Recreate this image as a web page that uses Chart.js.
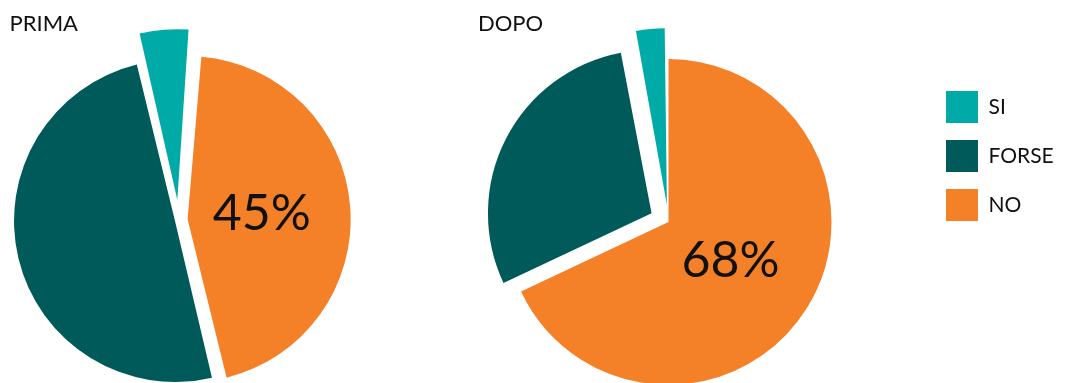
<!DOCTYPE html>
<html>
<head>
<meta charset="utf-8">
<title>PRIMA / DOPO</title>
<script src="https://cdn.jsdelivr.net/npm/chart.js@4.4.1/dist/chart.umd.min.js"></script>
<style>
  html, body { margin: 0; padding: 0; background: #ffffff; width: 1065px; height: 383px; overflow: hidden; }
  .panel { position: absolute; }
  #primaBox { left: 0; top: 0; width: 360px; height: 440px; }
  #dopoBox { left: 470px; top: 0; width: 389px; height: 440px; }
  #legendBox { left: 920px; top: 74px; width: 300px; height: 240px; }
</style>
</head>
<body>
<div class="panel" id="primaBox"><canvas id="primaChart"></canvas></div>
<div class="panel" id="dopoBox"><canvas id="dopoChart"></canvas></div>
<div class="panel" id="legendBox"><canvas id="legendChart"></canvas></div>
<script>
// Answer categories, in clockwise drawing order from the start angle
const categories = ['NO', 'FORSE', 'SI'];
// Share of answers (%) before and after
const primaValues = [45, 50, 5];
const dopoValues = [68, 29, 3];
// Slice colours, one per category
const colours = ['#F48128', '#015A5A', '#00AAA6'];
// Only this category carries a percentage label
const labelledCategory = 'NO';

const FONT = 'Lato, "Open Sans", sans-serif';
const TEXT = '#111111';
Chart.defaults.font.family = FONT;
Chart.defaults.color = TEXT;
Chart.defaults.animation = false;

// Writes "<value>%" inside the chosen slice, part way out along its middle angle
const percentLabel = {
  id: 'percentLabel',
  afterDatasetsDraw(chart, args, opts) {
    const i = chart.data.labels.indexOf(opts.category);
    const arc = chart.getDatasetMeta(0).data[i];
    if (!arc) return;
    const mid = (arc.startAngle + arc.endAngle) / 2;
    const r = arc.outerRadius * opts.radius;
    const ctx = chart.ctx;
    ctx.save();
    ctx.font = opts.size + 'px ' + FONT;
    ctx.fillStyle = opts.color;
    ctx.textAlign = 'center';
    ctx.textBaseline = 'middle';
    ctx.fillText(chart.data.datasets[0].data[i] + '%', arc.x + Math.cos(mid) * r, arc.y + Math.sin(mid) * r);
    ctx.restore();
  }
};

function pieChart(canvasId, title, values, cfg) {
  return new Chart(document.getElementById(canvasId), {
    type: 'pie',
    data: {
      labels: categories,
      datasets: [{
        data: values,
        backgroundColor: colours,
        borderWidth: 0,
        offset: cfg.explode,
        radius: cfg.radius,
        clip: false
      }]
    },
    options: {
      responsive: true,
      maintainAspectRatio: false,
      rotation: cfg.rotation,
      layout: { padding: cfg.padding },
      events: [],
      plugins: {
        legend: { display: false },
        tooltip: { enabled: false },
        title: {
          display: true,
          text: title,
          align: 'start',
          color: TEXT,
          font: { size: 22, weight: 'normal', lineHeight: 1.2 },
          padding: { top: 11, bottom: 0 }
        },
        percentLabel: { category: labelledCategory, radius: cfg.labelRadius, size: 50, color: TEXT }
      }
    },
    plugins: [percentLabel]
  });
}

pieChart('primaChart', 'PRIMA', primaValues, {
  rotation: 4.5,
  radius: 157,
  explode: [35, 16, 80],
  labelRadius: 0.53,
  padding: { left: 9.5, right: 11.7, top: 0, bottom: 37.4 }
});

pieChart('dopoChart', 'DOPO', dopoValues, {
  rotation: 0,
  radius: 163,
  explode: [0, 76, 68],
  labelRadius: 0.45,
  padding: { left: 8, right: 0, top: 0, bottom: 33.4 }
});

// Shared legend for both pies
new Chart(document.getElementById('legendChart'), {
  type: 'bar',
  data: {
    labels: [],
    datasets: categories.map((c, i) => ({ label: c, data: [], backgroundColor: colours[i], borderWidth: 0 }))
  },
  options: {
    responsive: true,
    maintainAspectRatio: false,
    events: [],
    layout: { padding: { left: 9, top: 0, right: 0, bottom: 0 } },
    scales: { x: { display: false }, y: { display: false } },
    plugins: {
      tooltip: { enabled: false },
      legend: {
        position: 'left',
        align: 'start',
        reverse: true,
        labels: {
          boxWidth: 32,
          boxHeight: 32,
          padding: 17,
          color: TEXT,
          font: { size: 21 }
        }
      }
    }
  }
});
</script>
</body>
</html>
